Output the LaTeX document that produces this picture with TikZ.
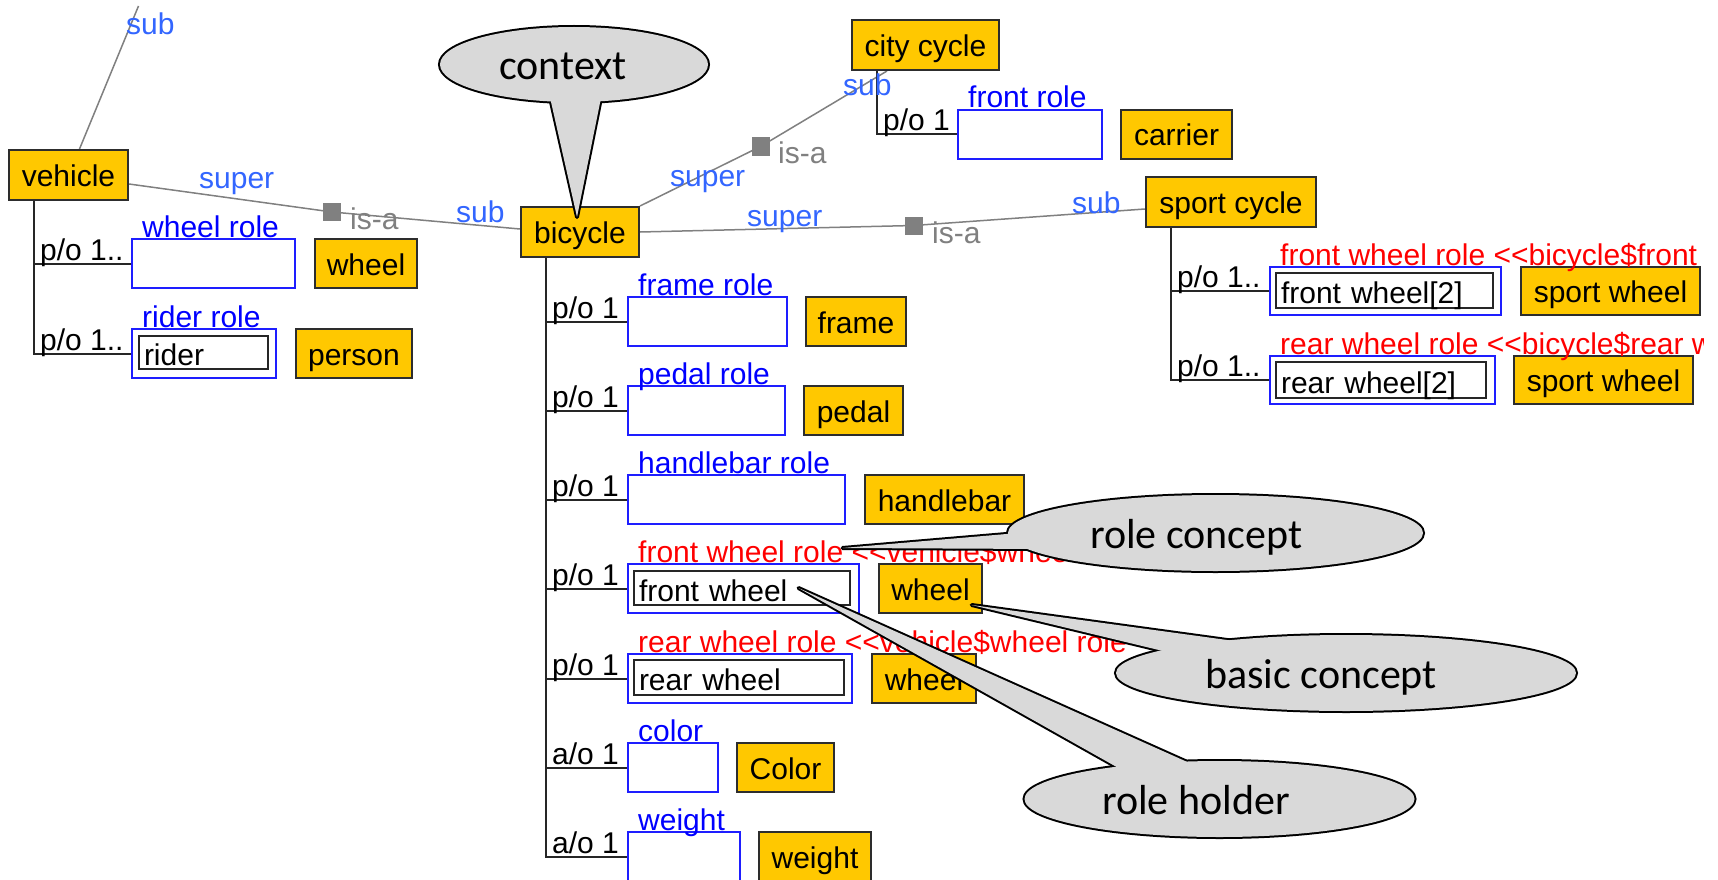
\documentclass[tikz,border=0pt]{standalone}
\usepackage{fontspec}
\usetikzlibrary{shapes.geometric}
\newfontfamily\diagfont{Liberation Sans}
\newfontfamily\notefont{Carlito}
\definecolor{cyellow}{RGB}{255,200,0}
\definecolor{cborder}{RGB}{45,45,45}
\definecolor{rblue}{RGB}{30,30,255}
\definecolor{lblue}{RGB}{0,0,255}
\definecolor{linkblue}{RGB}{51,102,255}
\definecolor{isagray}{RGB}{128,128,128}
\definecolor{cfill}{RGB}{217,217,217}
\pgfdeclarelayer{lines}
\pgfsetlayers{lines,main}
\begin{document}
\begin{tikzpicture}[x=1pt,y=-1pt,
  dtxt/.style={font=\diagfont\fontsize{30}{36}\selectfont},
  concept/.style={dtxt, draw=cborder, line width=2pt, fill=cyellow, anchor=north west,
    inner sep=0pt, text height=25pt, text depth=2pt},
  rolebox/.style={draw=rblue, line width=2pt, anchor=north west, inner sep=0pt},
  holder/.style={dtxt, draw=black!85, line width=2pt, anchor=north west, inner xsep=5pt,
    inner ysep=0pt, align=left, text height=26pt, text depth=0pt},
  rolelabel/.style={dtxt, text=lblue, anchor=base west, inner sep=0pt},
  inherited/.style={dtxt, text=red, anchor=base west, inner sep=0pt},
  card/.style={dtxt, anchor=base west, inner sep=0pt},
  linklabel/.style={dtxt, text=linkblue, anchor=base west, inner sep=0pt},
  isalabel/.style={dtxt, text=isagray, anchor=base west, inner sep=0pt},
  isamark/.style={fill=isagray, minimum size=18pt, inner sep=0pt},
  isaline/.style={draw=isagray, line width=1.5pt},
  tree/.style={draw=black!85, line width=2pt},
  callout/.style={ellipse, fill=cfill, preaction={draw=black, line width=4pt}, inner sep=0pt},
  wedge/.style={draw=black, line width=4pt, line join=round},
  notetext/.style={font=\notefont\fontsize{42}{50}\selectfont, anchor=base west, inner sep=0pt}]

\useasboundingbox (0,0) rectangle (1718,880);
\clip (0,0) rectangle (1718,880);

% ---------- concepts ----------
\node[concept, minimum width=119pt, minimum height=50pt] (vehicle) at (8,149) {vehicle};
\node[concept, minimum width=102pt, minimum height=49pt] (wheelA) at (314,238) {wheel};
\node[concept, minimum width=116pt, minimum height=49pt] (person) at (295,328) {person};
\node[concept, minimum width=118pt, minimum height=50pt] (bicycle) at (520,206) {bicycle};
\node[concept, minimum width=147pt, minimum height=50pt] (citycycle) at (851,19) {city cycle};
\node[concept, minimum width=111pt, minimum height=49pt] (carrier) at (1120,109) {carrier};
\node[concept, minimum width=170pt, minimum height=50pt] (sportcycle) at (1145,176) {sport cycle};
\node[concept, minimum width=179pt, minimum height=48pt] (sportwheelA) at (1520,266) {sport wheel};
\node[concept, minimum width=179pt, minimum height=48pt] (sportwheelB) at (1513,355) {sport wheel};
\node[concept, minimum width=100pt, minimum height=49pt] (frame) at (805,296) {frame};
\node[concept, minimum width=99pt, minimum height=49pt] (pedal) at (803,385) {pedal};
\node[concept, minimum width=159pt, minimum height=49pt] (handlebar) at (864,474) {handlebar};
\node[concept, minimum width=103pt, minimum height=49pt] (wheelB) at (878,563) {wheel};
\node[concept, minimum width=104pt, minimum height=49pt] (wheelC) at (871,653) {wheel};
\node[concept, minimum width=97pt, minimum height=49pt] (colorc) at (736,742) {Color};
\node[concept, minimum width=112pt, minimum height=49pt] (weightc) at (758,831) {weight};

% ---------- role slots ----------
\node[rolebox, minimum width=163pt, minimum height=49pt] (wheelrole) at (131,238) {};
\node[rolebox, minimum width=144pt, minimum height=49pt] (riderrole) at (131,328) {};
\node[rolebox, minimum width=159pt, minimum height=49pt] (framerole) at (627,296) {};
\node[rolebox, minimum width=157pt, minimum height=49pt] (pedalrole) at (627,385) {};
\node[rolebox, minimum width=217pt, minimum height=49pt] (handlerole) at (627,474) {};
\node[rolebox, minimum width=231pt, minimum height=49pt] (fwrole) at (627,563) {};
\node[rolebox, minimum width=224pt, minimum height=49pt] (rwrole) at (627,653) {};
\node[rolebox, minimum width=90pt, minimum height=49pt] (colorrole) at (627,742) {};
\node[rolebox, minimum width=112pt, minimum height=49pt] (weightrole) at (627,831) {};
\node[rolebox, minimum width=144pt, minimum height=49pt] (frontrole) at (957,109) {};
\node[rolebox, minimum width=231pt, minimum height=48pt] (fwroleS) at (1269,266) {};
\node[rolebox, minimum width=225pt, minimum height=48pt] (rwroleS) at (1269,355) {};

% ---------- role holders ----------
\node[holder, text width=119pt, minimum height=33pt] (rider) at (138,335) {rider};
\node[holder, text width=206pt, minimum height=34pt] (fwheel) at (633,570) {front wheel};
\node[holder, text width=200pt, minimum height=35pt] (rwheel) at (633,659) {rear wheel};
\node[holder, text width=207pt, minimum height=35pt] (fwheelS) at (1275,272) {front wheel[2]};
\node[holder, text width=200pt, minimum height=36pt] (rwheelS) at (1275,361) {rear wheel[2]};

% ---------- role names ----------
\node[rolelabel] (lwheelrole) at (142,237) {wheel role};
\node[rolelabel] (lriderrole) at (142,327) {rider role};
\node[rolelabel] (lframerole) at (638,295) {frame role};
\node[rolelabel] (lpedalrole) at (638,384) {pedal role};
\node[rolelabel] (lhandlerole) at (638,473) {handlebar role};
\node[rolelabel] (lcolor) at (638,741) {color};
\node[rolelabel] (lweight) at (638,830) {weight};
\node[rolelabel] (lfrontrole) at (968,108) {front role};
\node[inherited] (lfwrole) at (638,562) {front wheel role <\kern0pt<vehicle\$wheel role};
\node[inherited] (lrwrole) at (638,652) {rear wheel role <\kern0pt<vehicle\$wheel role};
\begin{scope}
  \clip (1260,230) rectangle (1703,360);
  \node[inherited] (lfwroleS) at (1280,265) {front wheel role <\kern0pt<bicycle\$front wheel role};
  \node[inherited] (lrwroleS) at (1280,354) {rear wheel role <\kern0pt<bicycle\$rear wheel role};
\end{scope}

% ---------- cardinalities ----------
\node[card] (c1) at (40,260) {p/o 1..};
\node[card] (c2) at (40,350) {p/o 1..};
\node[card] (c3) at (552,318) {p/o 1};
\node[card] (c4) at (552,407) {p/o 1};
\node[card] (c5) at (552,496) {p/o 1};
\node[card] (c6) at (552,585) {p/o 1};
\node[card] (c7) at (552,675) {p/o 1};
\node[card] (c8) at (552,764) {a/o 1};
\node[card] (c9) at (552,853) {a/o 1};
\node[card] (c10) at (883,131) {p/o 1};
\node[card] (c11) at (1177,287) {p/o 1..};
\node[card] (c12) at (1177,376) {p/o 1..};

% ---------- is-a links ----------
\node[isamark] (isaA) at (332,212) {};
\node[isamark] (isaB) at (760.5,146.5) {};
\node[isamark] (isaC) at (913.5,225.5) {};
\coordinate (vehsuper) at (138.5,6);

\node[linklabel] (subtop) at (126,35) {sub};
\node[linklabel] (superA) at (199,188) {super};
\node[isalabel] (isalA) at (350,229) {is-a};
\node[linklabel] (subA) at (456,222) {sub};
\node[linklabel] (superB) at (670,186) {super};
\node[isalabel] (isalB) at (778,163) {is-a};
\node[linklabel] (subB) at (843,96) {sub};
\node[linklabel] (superC) at (747,226) {super};
\node[isalabel] (isalC) at (932,243) {is-a};
\node[linklabel] (subC) at (1072,213) {sub};

\begin{pgfonlayer}{lines}
  \fill[white] (0,0) rectangle (1718,880);
  \draw[isaline] ([xshift=11pt]vehicle.north) -- (vehsuper);
  \draw[isaline] ([yshift=-9pt]vehicle.east) -- (isaA.center) -- ([yshift=3pt]bicycle.west);
  \draw[isaline] (bicycle.north east) -- (isaB.center) -- ([xshift=36pt]citycycle.south west);
  \draw[isaline] (bicycle.east) -- (isaC.center) -- ([yshift=-7pt]sportcycle.west);

  \draw[tree] ([xshift=25.5pt]vehicle.south west) |- (wheelrole.west);
  \draw[tree] ([xshift=25.5pt]vehicle.south west) |- (riderrole.west);
  \foreach \r in {framerole,pedalrole,handlerole,fwrole,rwrole,colorrole,weightrole}
    \draw[tree] ([xshift=26pt]bicycle.south west) |- (\r.west);
  \draw[tree] ([xshift=25.7pt]citycycle.south west) |- (frontrole.west);
  \draw[tree] ([xshift=26pt]sportcycle.south west) |- (fwroleS.west);
  \draw[tree] ([xshift=26pt]sportcycle.south west) |- (rwroleS.west);
\end{pgfonlayer}

% ---------- callouts ----------
% context
\coordinate (ctxtip) at (577,217);
\coordinate (ctxa) at (549,93);
\coordinate (ctxb) at (602,93);
\draw[wedge] (ctxtip) -- (ctxa) -- (ctxb) -- cycle;
\node[callout, minimum width=268pt, minimum height=75pt] (ctx) at (574,64.5) {};
\fill[cfill] (ctxtip) -- (ctxa) -- (ctxb) -- cycle;
\node[notetext] (ctxtext) at (499,80) {context};

% role concept
\coordinate (rctip) at (842.5,548);
\coordinate (rca) at (1030,532);
\coordinate (rcb) at (1045,549);
\draw[wedge] (rctip) -- (rca) -- (rcb) -- cycle;
\node[callout, minimum width=415pt, minimum height=76pt] (rc) at (1215.5,533) {};
\fill[cfill] (rctip) -- (rca) -- (rcb) -- cycle;
\node[notetext] (rctext) at (1090,548) {role concept};

% basic concept
\coordinate (bctip) at (971.7,605);
\coordinate (bca) at (1260,644.5);
\coordinate (bcb) at (1185,656.3);
\draw[wedge] (bctip) -- (bca) -- (bcb) -- cycle;
\node[callout, minimum width=460pt, minimum height=76pt] (bc) at (1346,673) {};
\fill[cfill] (bctip) -- (bca) -- (bcb) -- cycle;
\node[notetext] (bctext) at (1205,688) {basic concept};

% role holder
\coordinate (rhtip) at (798.5,588);
\coordinate (rha) at (1135.7,777.7);
\coordinate (rhb) at (1200.5,767.9);
\draw[wedge] (rhtip) -- (rha) -- (rhb) -- cycle;
\node[callout, minimum width=390pt, minimum height=76pt] (rh) at (1219.5,799) {};
\fill[cfill] (rhtip) -- (rha) -- (rhb) -- cycle;
\node[notetext] (rhtext) at (1102,814) {role holder};

\end{tikzpicture}
\end{document}
